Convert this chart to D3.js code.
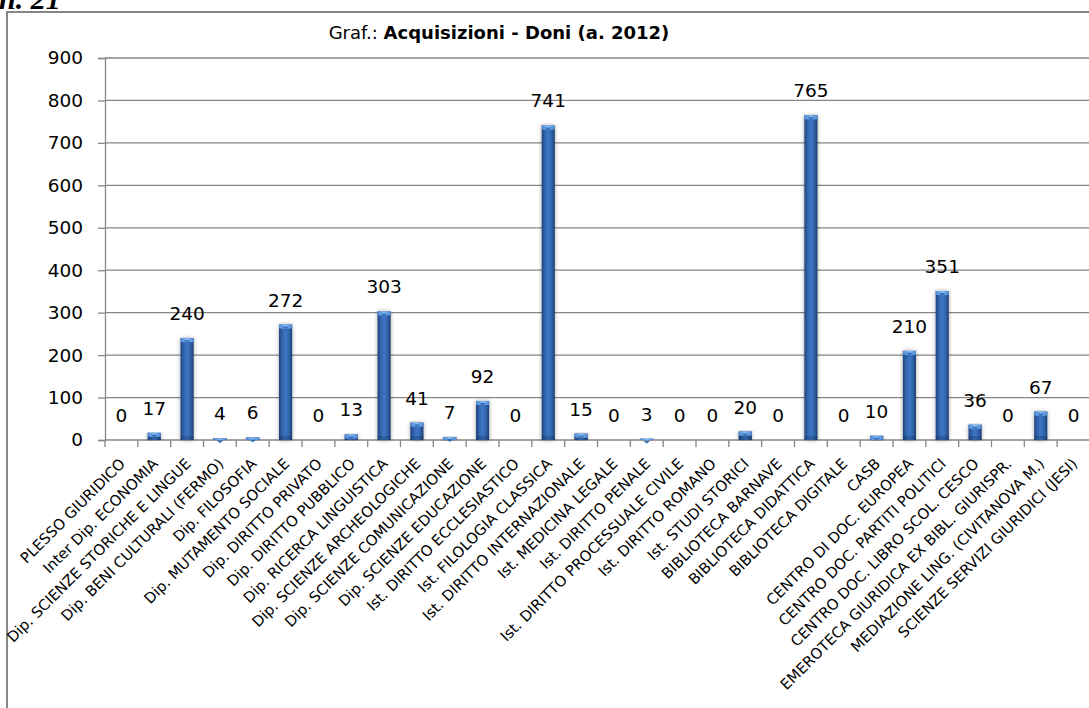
<!DOCTYPE html>
<html>
<head>
<meta charset="utf-8">
<script src="https://cdn.jsdelivr.net/npm/d3@7"></script>
<style>
  html, body { margin: 0; padding: 0; background: #fff; }
  svg { display: block; }
</style>
</head>
<body>
<svg id="chart" width="1089" height="708"></svg>
<script>
// Strutture e numero di doni ricevuti nel 2012
const categories = [
  "PLESSO GIURIDICO",
  "Inter Dip. ECONOMIA",
  "Dip. SCIENZE STORICHE E LINGUE",
  "Dip. BENI CULTURALI (FERMO)",
  "Dip. FILOSOFIA",
  "Dip. MUTAMENTO SOCIALE",
  "Dip. DIRITTO PRIVATO",
  "Dip. DIRITTO PUBBLICO",
  "Dip. RICERCA LINGUISTICA",
  "Dip. SCIENZE ARCHEOLOGICHE",
  "Dip. SCIENZE COMUNICAZIONE",
  "Dip. SCIENZE EDUCAZIONE",
  "Ist. DIRITTO ECCLESIASTICO",
  "Ist. FILOLOGIA CLASSICA",
  "Ist. DIRITTO INTERNAZIONALE",
  "Ist. MEDICINA LEGALE",
  "Ist. DIRITTO PENALE",
  "Ist. DIRITTO PROCESSUALE CIVILE",
  "Ist. DIRITTO ROMANO",
  "Ist. STUDI STORICI",
  "BIBLIOTECA BARNAVE",
  "BIBLIOTECA DIDATTICA",
  "BIBLIOTECA DIGITALE",
  "CASB",
  "CENTRO DI DOC. EUROPEA",
  "CENTRO DOC. PARTITI POLITICI",
  "CENTRO DOC. LIBRO SCOL. CESCO",
  "EMEROTECA GIURIDICA EX BIBL. GIURISPR.",
  "MEDIAZIONE LING. (CIVITANOVA M.)",
  "SCIENZE SERVIZI GIURIDICI (JESI)"
];
const doni = [0, 17, 240, 4, 6, 272, 0, 13, 303, 41, 7, 92, 0, 741, 15, 0, 3, 0, 0, 20, 0, 765, 0, 10, 210, 351, 36, 0, 67, 0];
const yTicks = [0, 100, 200, 300, 400, 500, 600, 700, 800, 900];

const svg = d3.select("#chart");
const FONT = "'DejaVu Sans', 'Open Sans', sans-serif";

const plot = { left: 105, right: 1090, top: 58, bottom: 440 };

const x = d3.scaleBand().domain(categories).range([plot.left, plot.right]).padding(0);
const y = d3.scaleLinear().domain([0, 900]).range([plot.bottom, plot.top]);

// gradients and shadow for the cylinder-like bars
const defs = svg.append("defs");
const g1 = defs.append("linearGradient").attr("id", "barFill").attr("x1", "0").attr("x2", "1").attr("y1", "0").attr("y2", "0");
[["0%", "#1f4478"], ["22%", "#2f62a8"], ["50%", "#3d76c6"], ["78%", "#2f62a8"], ["100%", "#1c3e6e"]]
  .forEach(([o, c]) => g1.append("stop").attr("offset", o).attr("stop-color", c));
const g2 = defs.append("linearGradient").attr("id", "capFill").attr("x1", "0").attr("x2", "1").attr("y1", "0").attr("y2", "0");
[["0%", "#4f88d4"], ["50%", "#86bdf5"], ["100%", "#4f88d4"]]
  .forEach(([o, c]) => g2.append("stop").attr("offset", o).attr("stop-color", c));
const shadow = defs.append("filter").attr("id", "barShadow").attr("x", "-60%").attr("y", "-10%").attr("width", "220%").attr("height", "120%");
shadow.append("feDropShadow").attr("dx", 0).attr("dy", 0).attr("stdDeviation", 2.2)
  .attr("flood-color", "#000").attr("flood-opacity", 0.35);

// outer frame
svg.append("rect")
  .attr("x", 7).attr("y", 12).attr("width", 1100).attr("height", 720)
  .attr("fill", "none").attr("stroke", "#868686").attr("stroke-width", 2);

// section number, partly cut at the top edge
svg.append("text")
  .attr("x", -1).attr("y", 9)
  .attr("font-family", "'Liberation Serif', serif")
  .attr("font-weight", "bold").attr("font-style", "italic")
  .attr("font-size", 30).attr("fill", "#000")
  .text("n. 21");

// title
const title = svg.append("text")
  .attr("x", 499).attr("y", 39)
  .attr("text-anchor", "middle")
  .attr("font-family", FONT).attr("font-size", 18).attr("fill", "#000");
title.append("tspan").text("Graf.: ");
title.append("tspan").attr("font-weight", "bold").text("Acquisizioni - Doni  (a. 2012)");

// y axis
const yAxis = d3.axisLeft(y).tickValues(yTicks).tickSize(7).tickPadding(15);
const gy = svg.append("g").attr("transform", `translate(${plot.left},0)`).call(yAxis);
gy.select(".domain").attr("stroke", "#868686").attr("stroke-width", 1.3);
gy.selectAll(".tick line").attr("stroke", "#868686").attr("stroke-width", 1.3);
gy.selectAll(".tick text").attr("font-family", FONT).attr("font-size", 18.5).attr("fill", "#000");

// horizontal gridlines
svg.append("g").selectAll("line").data(yTicks.filter(d => d > 0)).join("line")
  .attr("x1", plot.left).attr("x2", plot.right)
  .attr("y1", d => y(d)).attr("y2", d => y(d))
  .attr("stroke", "#868686").attr("stroke-width", 1.3);

// x axis line with tick marks at category boundaries
const bounds = categories.map(c => x(c)).concat([x.range()[1]]);
svg.append("line")
  .attr("x1", plot.left).attr("x2", plot.right)
  .attr("y1", y(0)).attr("y2", y(0))
  .attr("stroke", "#868686").attr("stroke-width", 1.3);
svg.append("g").selectAll("line").data(bounds).join("line")
  .attr("x1", d => d).attr("x2", d => d)
  .attr("y1", y(0)).attr("y2", y(0) + 7)
  .attr("stroke", "#868686").attr("stroke-width", 1.3);

// bars
const bw = x.bandwidth() * 0.4;
const rows = categories.map((c, i) => ({ c, v: doni[i] }));
const nonZero = rows.filter(d => d.v > 0);
const bx = d => x(d.c) + (x.bandwidth() - bw) / 2;
const bars = svg.append("g");
bars.selectAll("rect.bar").data(nonZero).join("rect")
  .attr("class", "bar")
  .attr("x", bx)
  .attr("y", d => y(d.v))
  .attr("width", bw)
  .attr("height", d => y(0) - y(d.v))
  .attr("fill", "url(#barFill)")
  .attr("filter", "url(#barShadow)");
// darker base band
bars.selectAll("rect.base").data(nonZero).join("rect")
  .attr("class", "base")
  .attr("x", bx)
  .attr("y", d => Math.max(y(d.v), y(0) - 4))
  .attr("width", bw)
  .attr("height", d => Math.min(4, y(0) - y(d.v)))
  .attr("fill", "#0d2447").attr("opacity", 0.25);
// light top face
bars.selectAll("rect.cap").data(nonZero).join("rect")
  .attr("class", "cap")
  .attr("x", bx)
  .attr("y", d => y(d.v))
  .attr("width", bw)
  .attr("height", d => Math.min(4, y(0) - y(d.v)))
  .attr("fill", "url(#capFill)");
bars.selectAll("path.notch").data(nonZero).join("path")
  .attr("class", "notch")
  .attr("d", d => {
    const cx = x(d.c) + x.bandwidth() / 2, ty = y(d.v) + 2;
    return `M${cx - 3.5},${ty} L${cx + 3.5},${ty} L${cx},${ty + 3} Z`;
  })
  .attr("fill", "#3a72c0");

// value labels
svg.append("g").selectAll("text").data(rows).join("text")
  .attr("x", d => x(d.c) + x.bandwidth() / 2)
  .attr("y", d => y(d.v) - 18)
  .attr("text-anchor", "middle")
  .attr("font-family", FONT).attr("font-size", 18.5).attr("fill", "#000")
  .text(d => d.v);

// rotated category labels
svg.append("g").selectAll("text").data(categories).join("text")
  .attr("transform", c => `translate(${x(c) + x.bandwidth() / 2 + 1},461) rotate(-45)`)
  .attr("text-anchor", "end")
  .attr("dy", "0.35em")
  .attr("font-family", FONT).attr("font-size", 14.8).attr("fill", "#000")
  .text(c => c);
</script>
</body>
</html>
